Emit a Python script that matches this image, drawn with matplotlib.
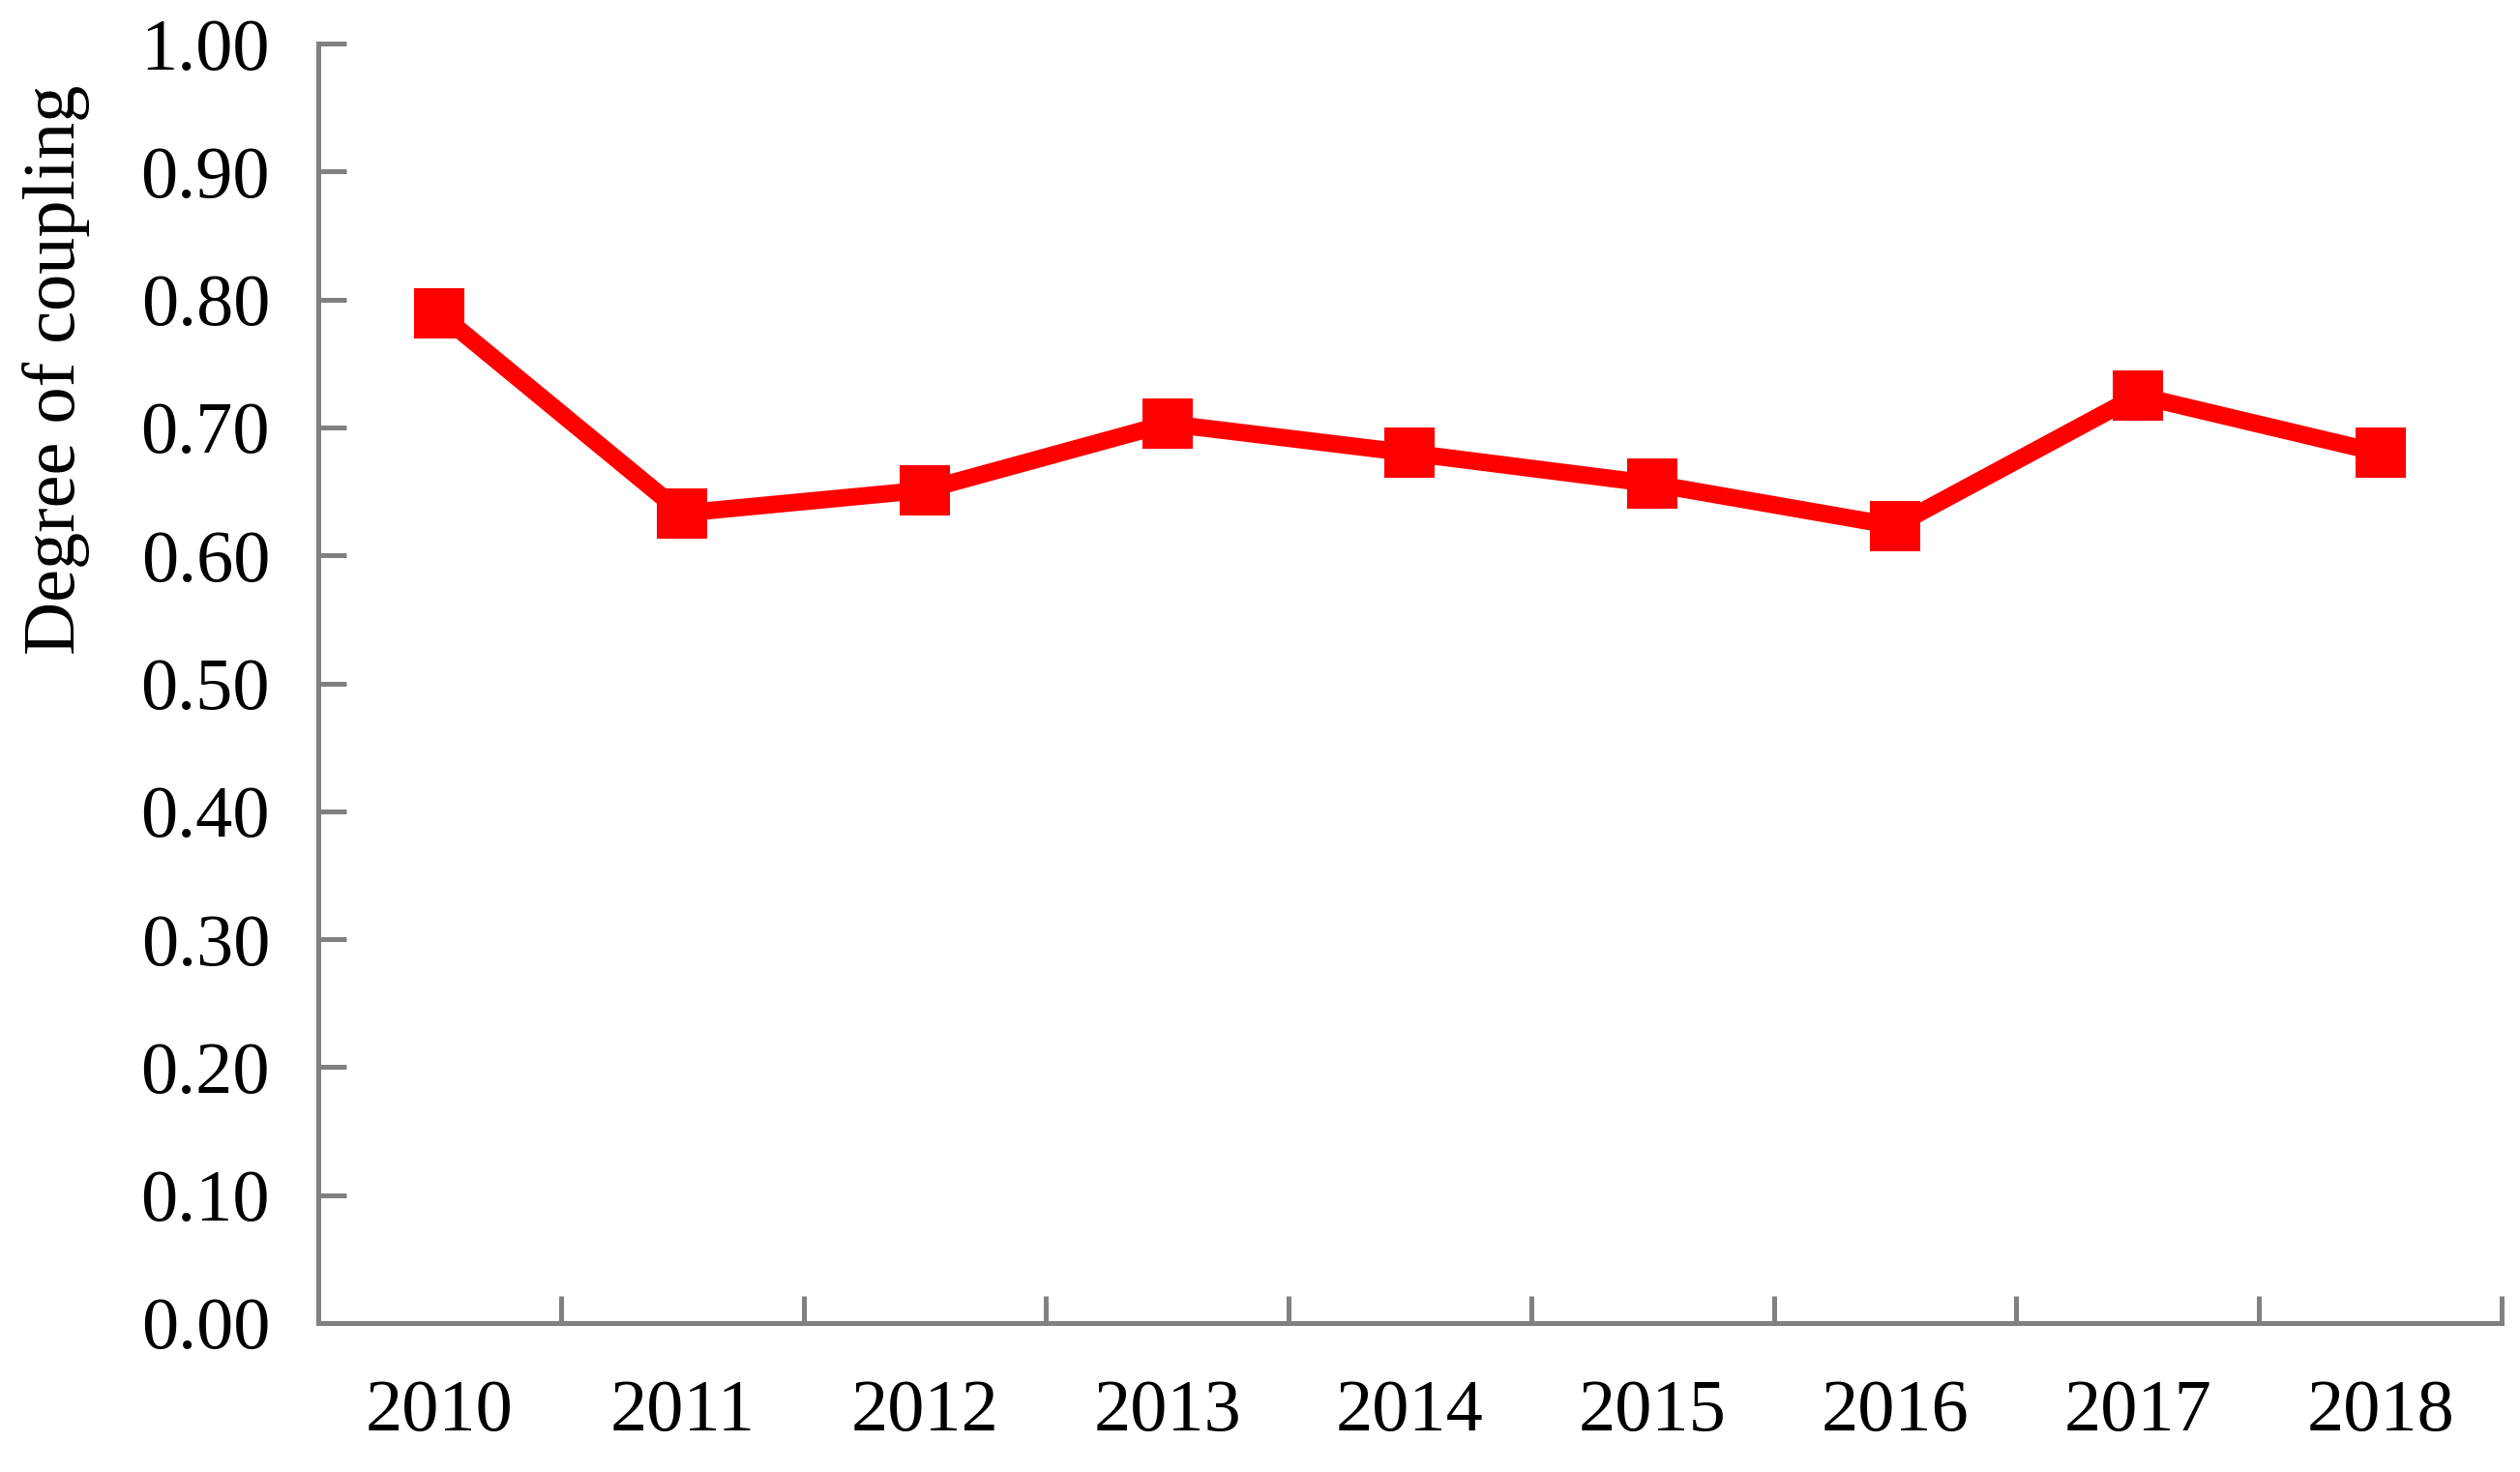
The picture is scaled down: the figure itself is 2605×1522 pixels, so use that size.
import matplotlib
matplotlib.use("Agg")
import matplotlib.pyplot as plt
from matplotlib.ticker import FormatStrFormatter

years = ["2010", "2011", "2012", "2013", "2014", "2015", "2016", "2017", "2018"]
coupling = [0.789, 0.633, 0.651, 0.703, 0.680, 0.656, 0.623, 0.725, 0.680]
y_ticks = [0.0, 0.1, 0.2, 0.3, 0.4, 0.5, 0.6, 0.7, 0.8, 0.9, 1.0]

AXIS_GRAY = "#808080"


def make_graph():
    plt.rcParams["font.family"] = ["Liberation Serif", "DejaVu Serif"]

    fig = plt.figure(figsize=(26.05, 15.22), dpi=100)
    ax = fig.add_axes([0.1263, 0.1012, 0.8664, 0.8692])

    x = list(range(len(years)))
    ax.plot(x, coupling, color="#ff0000", linewidth=13,
            marker="s", markersize=37, markeredgewidth=0, clip_on=False)

    ax.set_xlim(-0.5, len(years) - 0.5)
    ax.set_ylim(0, 1.0)

    # category labels sit between the boundary ticks, like Excel
    ax.set_xticks(x)
    ax.set_xticklabels(years)
    ax.set_xticks([i + 0.5 for i in x], minor=True)
    ax.tick_params(axis="x", which="major", length=0, pad=42, labelsize=55)
    ax.tick_params(axis="x", which="minor", direction="in", length=20,
                   width=3.6, color=AXIS_GRAY)

    ax.set_yticks(y_ticks)
    ax.yaxis.set_major_formatter(FormatStrFormatter("%.2f"))
    ax.tick_params(axis="y", direction="in", length=21, width=3.6,
                   color=AXIS_GRAY, pad=36, labelsize=55)

    for side in ["top", "right"]:
        ax.spines[side].set_visible(False)
    for side in ["left", "bottom"]:
        ax.spines[side].set_color(AXIS_GRAY)
        ax.spines[side].set_linewidth(3.6)

    ax.text(-0.12, 0.745, "Degree of coupling", transform=ax.transAxes,
            rotation=90, ha="center", va="center", fontsize=55)

    fig.savefig("out.png", dpi=100)


def main():
    make_graph()


if __name__ == "__main__":
    main()
